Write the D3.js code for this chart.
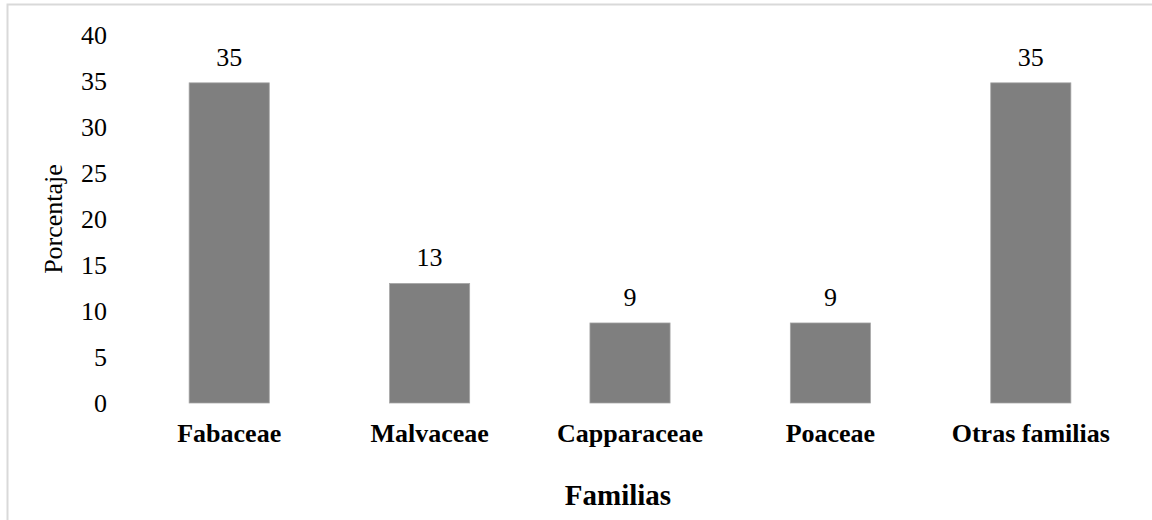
<!DOCTYPE html>
<html>
<head>
<meta charset="utf-8">
<script src="https://cdn.jsdelivr.net/npm/d3@7"></script>
<style>
  body { margin: 0; background: #fff; }
  svg { display: block; font-family: "Liberation Serif", "Times New Roman", serif; }
  .tick text { font-size: 26px; fill: #000; }
  .value { font-size: 26px; text-anchor: middle; }
  .label { font-size: 26px; }
</style>
</head>
<body>
<div class="chart"></div>
<script>
  // data
  var familias = ["Fabaceae", "Malvaceae", "Capparaceae", "Poaceae", "Otras familias"];
  var porcentaje = [34.8, 13.0, 8.7, 8.7, 34.8];
  var yTicks = [0, 5, 10, 15, 20, 25, 30, 35, 40];

  // dimensions
  var W = 1152, H = 520;
  var margin = {top: 35, right: 21, bottom: 117, left: 129};
  var width = W - margin.left - margin.right;
  var height = H - margin.top - margin.bottom;

  var svg = d3.select(".chart")
    .append("svg")
    .attr("width", W)
    .attr("height", H);

  // outer frame
  svg.append("rect")
    .attr("x", 7.5)
    .attr("y", 4.5)
    .attr("width", W)
    .attr("height", H)
    .attr("fill", "none")
    .attr("stroke", "#d9d9d9")
    .attr("stroke-width", 2);

  var chart = svg.append("g")
    .attr("transform", "translate(" + margin.left + "," + margin.top + ")");

  // scales
  var x = d3.scaleBand()
    .domain(familias)
    .range([0, width])
    .paddingInner(0.6)
    .paddingOuter(0.3);
  var y = d3.scaleLinear()
    .domain([0, 40])
    .range([height, 0]);

  var data = familias.map(function(f, i) {
    return {name: f, value: porcentaje[i]};
  });

  // bars
  chart.selectAll(".bar")
    .data(data)
    .enter()
    .append("rect")
    .attr("class", "bar")
    .attr("x", function(d) { return x(d.name); })
    .attr("y", function(d) { return y(d.value); })
    .attr("width", x.bandwidth())
    .attr("height", function(d) { return height - y(d.value); })
    .attr("fill", "#7f7f7f")
    .attr("stroke", "#a6a6a6")
    .attr("stroke-width", 0.75);

  // value labels
  chart.selectAll(".value")
    .data(data)
    .enter()
    .append("text")
    .attr("class", "value")
    .attr("x", function(d) { return x(d.name) + x.bandwidth() / 2; })
    .attr("y", function(d) { return y(d.value) - 17; })
    .text(function(d) { return d3.format(".0f")(d.value); });

  // y axis
  var yAxis = chart.append("g")
    .call(d3.axisLeft(y).tickValues(yTicks).tickSize(0).tickPadding(22))
    .attr("font-family", null)
    .attr("font-size", null);
  yAxis.select(".domain").remove();

  // x axis
  var xAxis = chart.append("g")
    .attr("transform", "translate(0," + height + ")")
    .call(d3.axisBottom(x).tickSize(0).tickPadding(21))
    .attr("font-family", null)
    .attr("font-size", null);
  xAxis.select(".domain").remove();
  xAxis.selectAll("text").attr("font-weight", "bold");

  // x label
  chart.append("text")
    .attr("class", "label")
    .attr("x", 618 - margin.left)
    .attr("y", 505 - margin.top)
    .attr("text-anchor", "middle")
    .attr("font-weight", "bold")
    .style("font-size", "29px")
    .text("Familias");

  // y label
  chart.append("text")
    .attr("class", "label")
    .attr("transform", "rotate(-90)")
    .attr("x", -(219 - margin.top))
    .attr("y", 62 - margin.left)
    .attr("text-anchor", "middle")
    .text("Porcentaje");
</script>
</body>
</html>
